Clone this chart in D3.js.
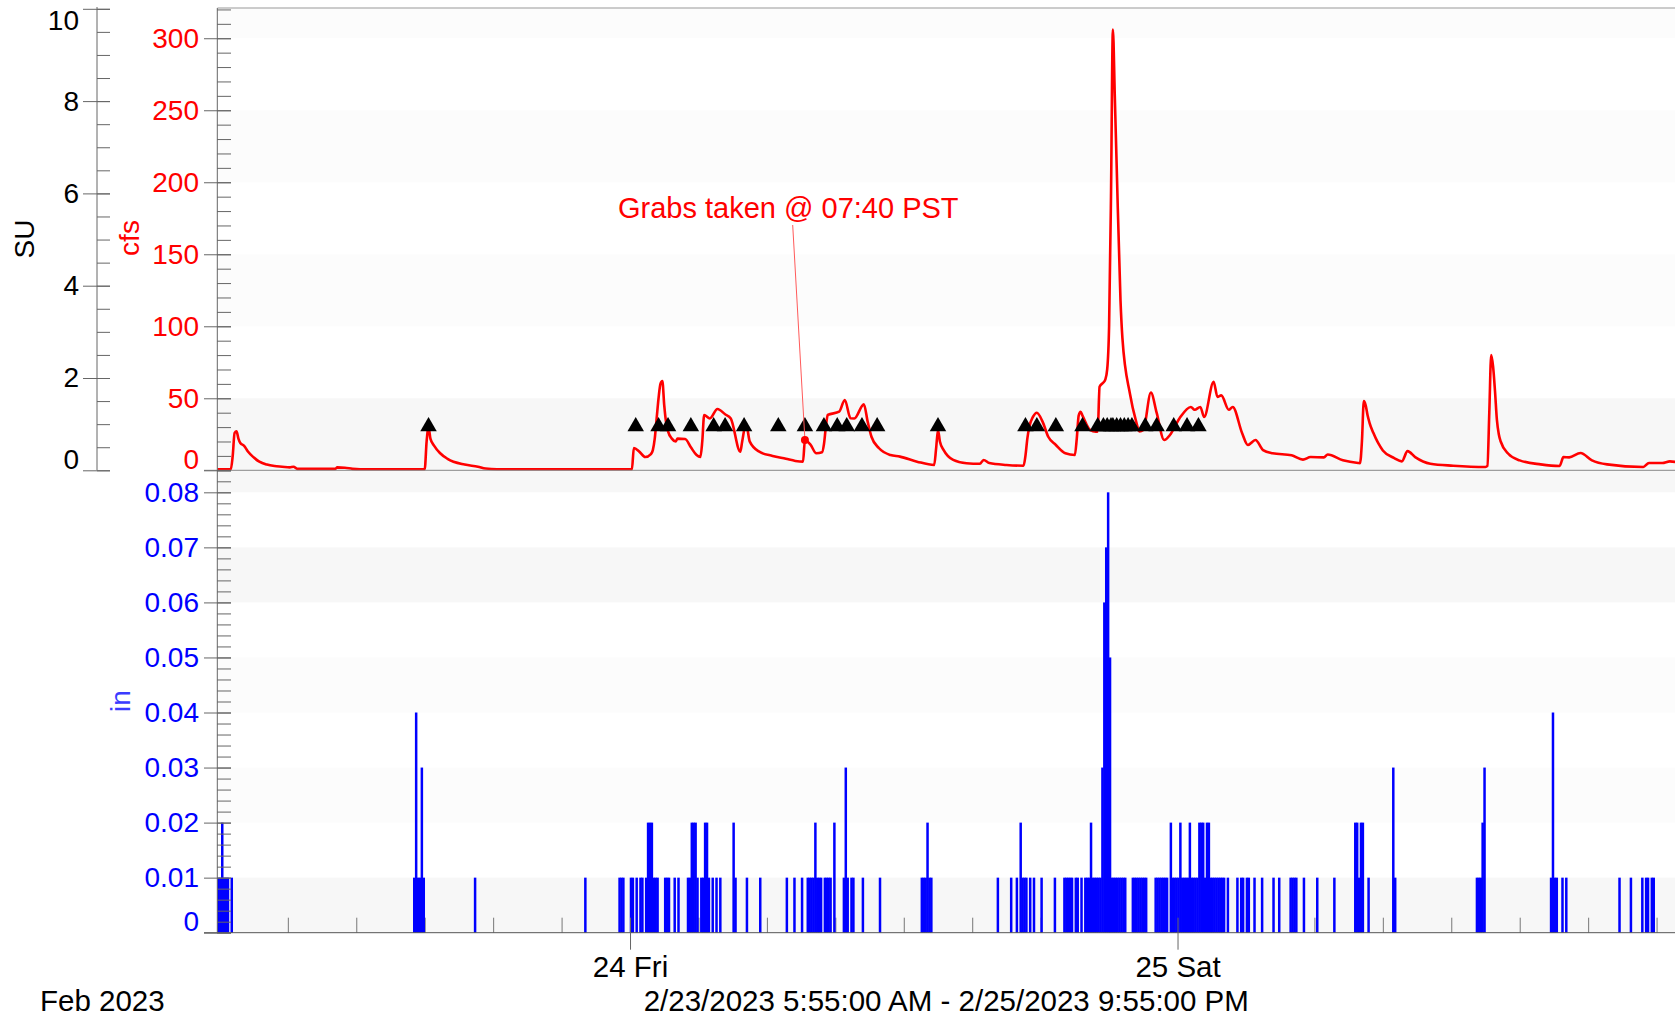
<!DOCTYPE html>
<html><head><meta charset="utf-8">
<script src="https://cdn.jsdelivr.net/npm/d3@7"></script>
<style>
html,body{margin:0;padding:0;background:#fff;}
svg{display:block;font-family:"Liberation Sans",Arial,sans-serif;}
</style></head><body>
<svg id="chart" width="1675" height="1019"></svg>
<script>
// ---------------- DATA ----------------
const timeRange = ["2023-02-23 05:55", "2023-02-25 21:55"];
const suTicks = [0, 2, 4, 6, 8, 10];
const cfsTicks = [0, 50, 100, 150, 200, 250, 300];
const rainTicks = [0, 0.01, 0.02, 0.03, 0.04, 0.05, 0.06, 0.07, 0.08];
const dayTicks = ["2023-02-24 00:00", "2023-02-25 00:00"];
const dayTickLabels = ["24 Fri", "25 Sat"];
const monthLabel = "Feb 2023";
const rangeLabel = "2/23/2023 5:55:00 AM - 2/25/2023 9:55:00 PM";
const titleSU = "SU", titleCfs = "cfs", titleRain = "in";
const annotationText = "Grabs taken @ 07:40 PST";
const grabTime = "2023-02-24 07:40";
const suMax = 10, cfsMax = 321, rainMax = 0.084;
const sampleMarkerSU = 1;

// flow (cfs), [time, value] per day
const flowFeb23 = [["05:55",0.7],["06:30",0.7],["06:35",10],["06:40",26],["06:45",27],["06:50",22],["06:55",19],["07:05",17],["07:15",13],["07:30",9],["07:45",6],["08:05",4],["08:25",3],["08:45",2.5],["09:05",2],["09:15",2.5],["09:25",1],["11:05",1],["11:10",2],["11:30",1.8],["11:50",1],["12:10",0.7],["15:00",0.8],["15:05",20],["15:10",30],["15:15",22],["15:25",17],["15:40",12],["16:00",8],["16:45",4],["17:20",2.5],["17:40",1.2],["18:10",0.7]];
const flowFeb24 = [["00:05",0.7],["00:10",15.5],["00:25",12.8],["00:40",9.2],["00:55",11.3],["01:00",14],["01:05",22],["01:10",36],["01:15",50],["01:20",60],["01:25",62],["01:30",45],["01:35",33],["01:40",27],["01:50",22],["02:00",20],["02:05",22],["02:25",21.7],["02:40",16],["02:55",10.6],["03:05",9.2],["03:10",20],["03:15",38.4],["03:30",36],["03:50",42.6],["04:10",38.9],["04:25",36],["04:50",12.9],["04:55",20],["05:05",32.6],["05:15",19.9],["05:40",12.9],["06:15",10],["06:50",8],["07:15",6.5],["07:35",6],["07:40",21],["07:55",17.6],["08:10",11.8],["08:25",12.5],["08:30",18],["08:35",30],["08:40",38.4],["09:10",40.7],["09:25",48.8],["09:40",36.1],["09:50",36],["10:15",45.8],["10:25",33.8],["10:35",23.3],["10:55",15.3],["11:25",10.6],["11:50",9.5],["12:35",6],["13:20",3.7],["13:25",15],["13:30",28],["13:35",20],["13:45",14],["14:10",7.2],["14:45",4.9],["15:20",4.5],["15:30",7.2],["15:45",5],["16:30",3.7],["17:15",3.2],["17:20",10],["17:25",22],["17:30",30],["17:40",37.2],["17:50",40],["18:05",33.8],["18:20",23.3],["18:40",17.6],["19:05",11.8],["19:30",10.6],["19:35",22],["19:40",38],["19:45",40.7],["19:50",38],["20:10",28],["20:25",26.8],["20:30",27],["20:35",58],["20:45",61],["20:50",63],["20:55",70],["21:00",100],["21:05",190],["21:10",306],["21:15",260],["21:20",211],["21:30",118],["21:35",92],["21:55",53],["22:10",35],["22:20",27],["22:30",28],["22:50",54],["23:05",40],["23:25",21],["23:40",24.5]];
const flowFeb25 = [["00:05",36],["00:35",44],["00:45",42],["01:00",44],["01:10",37],["01:35",61.5],["01:45",51],["01:55",52],["02:15",42],["02:25",44],["02:50",25.7],["03:05",17.6],["03:25",21],["03:45",14],["04:10",11.8],["05:00",10.4],["05:30",7.4],["05:50",9.2],["06:25",9],["06:35",11],["07:15",6.9],["07:55",5.1],["08:00",5],["08:05",20],["08:10",48],["08:15",45],["08:20",38],["08:25",33],["08:35",26],["09:00",13.8],["09:30",8.5],["09:50",6.2],["10:05",13.3],["10:25",9.2],["11:05",4.6],["12:05",3.2],["13:30",2.3],["13:35",3],["13:40",40],["13:45",80],["13:50",72],["13:55",55],["14:00",35],["14:05",25],["14:10",20],["14:30",11.5],["15:00",6.9],["15:55",4.1],["16:45",3],["16:55",9.2],["17:10",9],["17:40",12],["18:10",6.9],["18:50",4.1],["20:25",2.3],["20:40",5.1],["21:15",5.1],["21:35",6.2],["21:55",5.5]];

// rain (in per 5 min), [start time, value] per day
const rainFeb23 = [["05:55",.01],["06:00",.01],["06:05",.02],["06:10",.01],["06:15",.01],["06:20",.01],["06:30",.01],["14:30",.01],["14:35",.04],["14:40",.01],["14:45",.01],["14:50",.03],["14:55",.01],["17:10",.01],["22:00",.01],["23:30",.01],["23:35",.01],["23:40",.01]];
const rainFeb24 = [["00:00",.01],["00:05",.01],["00:15",.01],["00:25",.01],["00:30",.01],["00:40",.01],["00:45",.02],["00:50",.02],["00:55",.02],["01:00",.01],["01:05",.01],["01:10",.01],["01:30",.01],["01:35",.01],["01:40",.01],["01:55",.01],["02:05",.01],["02:30",.01],["02:35",.01],["02:40",.02],["02:45",.02],["02:50",.02],["02:55",.01],["03:05",.01],["03:10",.01],["03:15",.02],["03:20",.02],["03:25",.01],["03:35",.01],["03:45",.01],["03:55",.01],["04:30",.02],["04:35",.01],["05:05",.01],["05:40",.01],["06:50",.01],["07:10",.01],["07:30",.01],["07:45",.01],["07:50",.01],["07:55",.01],["08:00",.01],["08:05",.02],["08:10",.01],["08:15",.01],["08:20",.01],["08:30",.01],["08:35",.01],["08:40",.01],["08:45",.01],["08:55",.02],["09:20",.01],["09:25",.03],["09:30",.01],["09:40",.01],["09:45",.01],["10:10",.01],["10:55",.01],["12:45",.01],["12:50",.01],["12:55",.01],["13:00",.02],["13:05",.01],["13:10",.01],["16:05",.01],["16:40",.01],["16:55",.01],["17:05",.02],["17:10",.01],["17:15",.01],["17:20",.01],["17:30",.01],["17:40",.01],["18:00",.01],["18:35",.01],["19:00",.01],["19:05",.01],["19:10",.01],["19:15",.01],["19:20",.01],["19:30",.01],["19:35",.01],["19:45",.01],["19:55",.01],["20:00",.01],["20:05",.01],["20:10",.02],["20:15",.01],["20:20",.01],["20:25",.01],["20:30",.01],["20:35",.01],["20:40",.03],["20:45",.06],["20:50",.07],["20:55",.08],["21:00",.05],["21:05",.01],["21:10",.01],["21:15",.01],["21:20",.01],["21:25",.01],["21:30",.01],["21:35",.01],["21:40",.01],["22:00",.01],["22:05",.01],["22:10",.01],["22:15",.01],["22:20",.01],["22:25",.01],["22:30",.01],["22:35",.01],["23:00",.01],["23:05",.01],["23:10",.01],["23:15",.01],["23:20",.01],["23:25",.01],["23:30",.01],["23:40",.02],["23:45",.01],["23:50",.01],["23:55",.01]];
const rainFeb25 = [["00:00",.01],["00:05",.02],["00:10",.01],["00:15",.01],["00:20",.01],["00:25",.01],["00:30",.02],["00:35",.01],["00:40",.01],["00:45",.01],["00:50",.01],["00:55",.02],["01:00",.02],["01:05",.02],["01:10",.01],["01:15",.02],["01:20",.02],["01:25",.01],["01:30",.01],["01:35",.01],["01:40",.01],["01:45",.01],["01:50",.01],["01:55",.01],["02:00",.01],["02:10",.01],["02:35",.01],["02:45",.01],["02:50",.01],["03:00",.01],["03:05",.01],["03:20",.01],["03:40",.01],["04:10",.01],["04:25",.01],["04:55",.01],["05:00",.01],["05:05",.01],["05:10",.01],["05:30",.01],["06:05",.01],["06:50",.01],["07:45",.02],["07:50",.02],["07:55",.01],["08:00",.02],["08:05",.02],["08:20",.01],["09:25",.03],["09:30",.01],["13:05",.01],["13:10",.01],["13:15",.01],["13:20",.02],["13:25",.03],["16:20",.01],["16:25",.04],["16:30",.01],["16:35",.01],["16:50",.01],["17:00",.01],["19:20",.01],["19:50",.01],["20:20",.01],["20:30",.01],["20:35",.01],["20:45",.01],["20:50",.01]];

// sampler event markers
const sampleTimes = ["2023-02-23 15:10","2023-02-24 00:15","2023-02-24 01:15","2023-02-24 01:40","2023-02-24 02:40","2023-02-24 03:40","2023-02-24 04:10","2023-02-24 05:00","2023-02-24 06:30","2023-02-24 07:40","2023-02-24 08:30","2023-02-24 09:05","2023-02-24 09:30","2023-02-24 10:10","2023-02-24 10:50","2023-02-24 13:30","2023-02-24 17:20","2023-02-24 17:50","2023-02-24 18:40","2023-02-24 19:50","2023-02-24 20:30","2023-02-24 20:45","2023-02-24 20:55","2023-02-24 21:05","2023-02-24 21:10","2023-02-24 21:20","2023-02-24 21:30","2023-02-24 21:40","2023-02-24 21:50","2023-02-24 22:00","2023-02-24 22:35","2023-02-24 23:05","2023-02-24 23:50","2023-02-25 00:25","2023-02-25 00:55"];

// ---------------- CHART ----------------
const W = 1675, H = 1019;
const parse = d3.timeParse("%Y-%m-%d %H:%M");
const expand = (day, rows) => rows.map(([t, v]) => ({ t: parse(`2023-02-${day} ${t}`), v }));
const flow = [...expand(23, flowFeb23), ...expand(24, flowFeb24), ...expand(25, flowFeb25)];
const rain = [...expand(23, rainFeb23), ...expand(24, rainFeb24), ...expand(25, rainFeb25)];
const samples = sampleTimes.map(parse);

const L = 217.5, R = 1677.5, topY = 8, midY = 470.3, botY = 932.7;
const x = d3.scaleTime().domain(timeRange.map(parse)).range([L, R]);
const yFlow = d3.scaleLinear().domain([0, cfsMax]).range([midY, topY]);
const ySU = d3.scaleLinear().domain([0, suMax]).range([midY, 8.8]);
const yRain = d3.scaleLinear().domain([0, rainMax]).range([botY, midY]);

const svg = d3.select("#chart");
svg.append("rect").attr("width", W).attr("height", H).attr("fill", "#fff");

const BAND = "#f7f7f7", FAINT = "#fcfcfc";
// bands upper panel
[[0, 50, BAND], [100, 150, FAINT], [200, 250, FAINT], [300, cfsMax, FAINT]].forEach(([lo, hi, c]) => {
  svg.append("rect").attr("x", L).attr("width", W - L)
    .attr("y", yFlow(hi)).attr("height", yFlow(lo) - yFlow(hi)).attr("fill", c);
});
// bands lower panel
[[0, 0.01, BAND], [0.02, 0.03, FAINT], [0.04, 0.05, FAINT], [0.06, 0.07, BAND], [0.08, rainMax, BAND]].forEach(([lo, hi, c]) => {
  svg.append("rect").attr("x", L).attr("width", W - L)
    .attr("y", yRain(hi)).attr("height", yRain(lo) - yRain(hi)).attr("fill", c);
});

const AX = "#666";
function styleAxis(g, color, size) {
  g.select(".domain").remove();
  g.selectAll(".tick line").attr("stroke", AX).attr("stroke-width", 1);
  g.selectAll(".tick text").attr("fill", color).attr("font-size", size)
    .attr("font-family", '"Liberation Sans", Arial, sans-serif');
  g.attr("font-family", null).attr("font-size", null);
}
function clampLabels(g, scale) {
  const [d0, d1] = scale.domain();
  g.selectAll(".tick text").attr("dy", d => d === d0 ? "-0.08em" : (Math.abs(scale(d) - scale(d1)) < 12 ? "0.75em" : "0.32em"));
}

// x-axis minor ticks (every 3h, upward)
const xMinor = svg.append("g").attr("transform", `translate(0,${botY})`)
  .call(d3.axisBottom(x).ticks(d3.timeHour.every(3)).tickSize(-15).tickFormat(""));
styleAxis(xMinor, "#000", 1);
xMinor.selectAll(".tick line").attr("stroke", "#777");

// rain bars
const fiveMin = 5 * 60 * 1000;
svg.append("g").selectAll("rect").data(rain).join("rect")
  .attr("x", d => x(d.t) - 0.3)
  .attr("width", d => x(new Date(+d.t + fiveMin)) - x(d.t) + 0.6)
  .attr("y", d => yRain(d.v))
  .attr("height", d => yRain(0) - yRain(d.v))
  .attr("fill", "#0000ff");

// flow line
svg.append("path").datum(flow)
  .attr("d", d3.line().curve(d3.curveMonotoneX).x(d => x(d.t)).y(d => yFlow(d.v)))
  .attr("fill", "none").attr("stroke", "#ff0000").attr("stroke-width", 2.6)
  .attr("stroke-linejoin", "round");

// sampler markers
const tri = d3.symbol(d3.symbolTriangle, 118);
const triH = Math.sqrt(118 * 4 / Math.sqrt(3)) * Math.sqrt(3) / 2;
svg.append("g").selectAll("path").data(samples).join("path")
  .attr("d", tri)
  .attr("transform", d => `translate(${x(d)},${ySU(sampleMarkerSU) + triH / 6})`)
  .attr("fill", "#000");

// frame lines
svg.append("line").attr("x1", L).attr("x2", W).attr("y1", topY).attr("y2", topY).attr("stroke", "#999");
svg.append("line").attr("x1", 204).attr("x2", W).attr("y1", midY).attr("y2", midY).attr("stroke", "#888");
svg.append("line").attr("x1", 204).attr("x2", W).attr("y1", botY).attr("y2", botY).attr("stroke", "#555");
svg.append("line").attr("x1", 217.3).attr("x2", 217.3).attr("y1", topY).attr("y2", botY).attr("stroke", AX);
svg.append("line").attr("x1", 97).attr("x2", 97).attr("y1", 7).attr("y2", midY).attr("stroke", AX);

// SU axis
const suMinorG = svg.append("g").attr("transform", "translate(110,0)")
  .call(d3.axisLeft(ySU).tickValues(d3.range(0, 21).map(i => i * 0.5)).tickSize(13).tickFormat(""));
styleAxis(suMinorG, "#000", 1);
const suG = svg.append("g").attr("transform", "translate(110,0)")
  .call(d3.axisLeft(ySU).tickValues(suTicks).tickSize(27).tickPadding(4).tickFormat(d3.format("d")));
styleAxis(suG, "#000", 28); clampLabels(suG, ySU);

// cfs axis
const cfsMinorG = svg.append("g").attr("transform", "translate(231,0)")
  .call(d3.axisLeft(yFlow).tickValues(d3.range(0, 33).map(i => i * 10)).tickSize(14).tickFormat(""));
styleAxis(cfsMinorG, "#000", 1);
const cfsG = svg.append("g").attr("transform", "translate(231,0)")
  .call(d3.axisLeft(yFlow).tickValues(cfsTicks).tickSize(27).tickPadding(5).tickFormat(d3.format("d")));
styleAxis(cfsG, "#ff0000", 28); clampLabels(cfsG, yFlow);

// rain axis
const rainMinorG = svg.append("g").attr("transform", "translate(231,0)")
  .call(d3.axisLeft(yRain).tickValues(d3.range(0, 43).map(i => i * 0.002)).tickSize(14).tickFormat(""));
styleAxis(rainMinorG, "#000", 1);
const rainG = svg.append("g").attr("transform", "translate(231,0)")
  .call(d3.axisLeft(yRain).tickValues(rainTicks).tickSize(27).tickPadding(5)
    .tickFormat(d => d === 0 ? "0" : d3.format(".2f")(d)));
styleAxis(rainG, "#0000ff", 28); clampLabels(rainG, yRain);

// day ticks + labels
const dayG = svg.append("g").attr("transform", `translate(0,${botY})`)
  .call(d3.axisBottom(x).tickValues(dayTicks.map(parse)).tickSize(17).tickPadding(6)
    .tickFormat((d, i) => dayTickLabels[i]));
styleAxis(dayG, "#000", 29.5);
dayG.selectAll(".tick line").attr("y1", -15).attr("stroke", "#666");

// axis titles
const title = (txt, cx, cy, color) => svg.append("text")
  .attr("transform", `translate(${cx},${cy}) rotate(-90)`)
  .attr("text-anchor", "middle").attr("dominant-baseline", "central")
  .attr("font-size", 28).attr("fill", color).text(txt);
title(titleSU, 24, 239, "#000");
title(titleCfs, 129, 238, "#ff0000");
title(titleRain, 120, 701, "#3b3bff");

// bottom texts
svg.append("text").attr("x", 40).attr("y", 1011).attr("font-size", 29.5).attr("fill", "#000").text(monthLabel);
svg.append("text").attr("x", (L + W) / 2).attr("y", 1011).attr("text-anchor", "middle")
  .attr("font-size", 29.5).attr("fill", "#000").text(rangeLabel);

// annotation
const gt = parse(grabTime);
const gv = flow.find(d => +d.t === +gt).v;
svg.append("line").attr("x1", 792.7).attr("y1", 225).attr("x2", x(gt)).attr("y2", yFlow(gv))
  .attr("stroke", "#ff5a5a").attr("stroke-width", 1);
svg.append("circle").attr("cx", x(gt)).attr("cy", yFlow(gv)).attr("r", 4).attr("fill", "#ff0000");
svg.append("text").attr("x", 618).attr("y", 218).attr("font-size", 29).attr("fill", "#ff0000").text(annotationText);
</script>
</body></html>
